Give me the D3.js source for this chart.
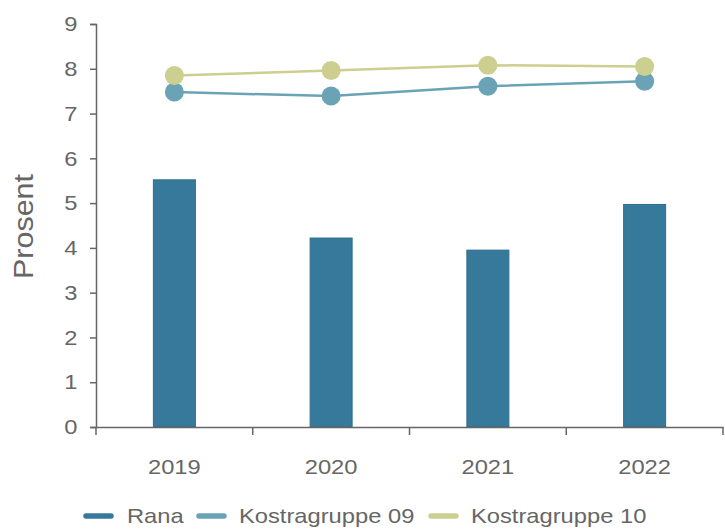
<!DOCTYPE html>
<html><head><meta charset="utf-8">
<script src="https://cdn.jsdelivr.net/npm/d3@7"></script>
<style>body{margin:0;background:#fff;font-family:"Liberation Sans",Arial,sans-serif;}</style>
</head><body><svg id="c" width="725" height="530"></svg>
<script>
const categories = ["2019","2020","2021","2022"];
const rana = [5.52, 4.22, 3.95, 4.97];
const kostra09 = [7.48, 7.39, 7.61, 7.72];
const kostra10 = [7.85, 7.96, 8.08, 8.05];
const yTicks = [0,1,2,3,4,5,6,7,8,9];
const seriesNames = ["Rana","Kostragruppe 09","Kostragruppe 10"];
const colors = ["#37799a","#6aa3b6","#cccf8f"];

const SX = 1.13; // horizontal text stretch
const FONT = "Liberation Sans, Arial, sans-serif";
const svg = d3.select("#c");
const m = {l:96, r:2, t:24, b:103};
const W = 725, H = 530;
const x = d3.scaleBand().domain(categories).range([m.l, W - m.r]).paddingInner(0).paddingOuter(0);
const y = d3.scaleLinear().domain([0,9]).range([H - m.b, m.t]);
const grey = "#666";

// bars
svg.append("g").selectAll("rect").data(rana).join("rect")
  .attr("x",(d,i)=>x(categories[i]) + x.bandwidth()/2 - 21)
  .attr("width",42)
  .attr("y",d=>y(d)).attr("height",d=>y(0)-y(d))
  .attr("fill",colors[0]).attr("stroke","#2f6d8c").attr("stroke-width",1);

// y axis
const ya = svg.append("g").attr("transform",`translate(${m.l},0)`)
  .call(d3.axisLeft(y).tickValues(yTicks).tickSize(6).tickPadding(10.5));
ya.select(".domain").attr("stroke",grey).attr("stroke-width",1.5);
ya.selectAll(".tick line").attr("stroke",grey).attr("stroke-width",1.5);
ya.selectAll("text").attr("fill",grey).attr("transform",`scale(${SX},1)`)
  .style("font-size","21px").style("font-family",FONT);

// x axis
const xa = svg.append("g").attr("transform",`translate(0,${y(0)})`)
  .call(d3.axisBottom(x).tickSize(0).tickPadding(32));
xa.select(".domain").attr("stroke",grey).attr("stroke-width",1.5);
xa.selectAll("text").attr("fill",grey).attr("transform",`scale(${SX},1)`)
  .style("font-size","21px").style("font-family",FONT);
const bounds = categories.map(c=>x(c)).concat([x(categories[categories.length-1]) + x.bandwidth()]);
xa.selectAll(".bt").data(bounds).join("line").attr("class","bt")
  .attr("x1",d=>d).attr("x2",d=>d).attr("y1",0).attr("y2",8)
  .attr("stroke",grey).attr("stroke-width",1.5);

// y title
svg.append("text").attr("transform",`translate(33,${(m.t + H - m.b)/2 + 1}) rotate(-90) scale(${SX},1)`)
  .attr("text-anchor","middle").attr("fill",grey).style("font-size","27px").style("font-family",FONT)
  .text("Prosent");

// lines
const cx = (i)=>x(categories[i]) + x.bandwidth()/2;
[[kostra09,colors[1]],[kostra10,colors[2]]].forEach(([vals,col])=>{
  const line = d3.line().x((d,i)=>cx(i)).y(d=>y(d));
  svg.append("path").datum(vals).attr("d",line).attr("fill","none")
    .attr("stroke",col).attr("stroke-width",2.5);
  svg.append("g").selectAll("circle").data(vals).join("circle")
    .attr("cx",(d,i)=>cx(i)).attr("cy",d=>y(d)).attr("r",9.5).attr("fill",col);
});

// legend
const leg = [{x:86, tx:127},{x:199, tx:239},{x:431, tx:471}];
const lg = svg.append("g");
seriesNames.forEach((n,i)=>{
  lg.append("line").attr("x1",leg[i].x).attr("x2",leg[i].x+25).attr("y1",516).attr("y2",516)
    .attr("stroke",colors[i]).attr("stroke-width",5.5).attr("stroke-linecap","round");
  lg.append("text").attr("transform",`translate(${leg[i].tx},523) scale(${SX},1)`).attr("fill",grey)
    .style("font-size","21px").style("font-family",FONT).text(n);
});
</script></body></html>
